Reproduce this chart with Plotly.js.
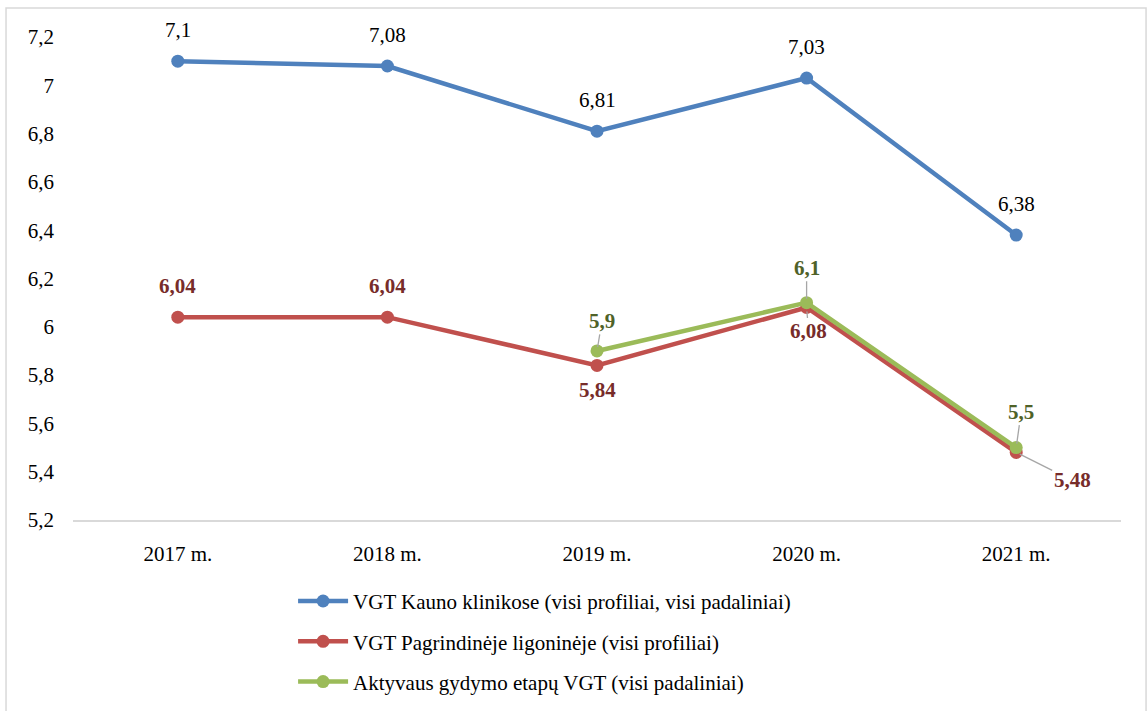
<!DOCTYPE html>
<html>
<head>
<meta charset="utf-8">
<script src="https://cdn.plot.ly/plotly-3.0.1.min.js"></script>
<style>
  html, body { margin: 0; padding: 0; background: #fff; }
  #chart { width: 1148px; height: 711px; }
</style>
</head>
<body>
<div id="chart"></div>
<script>
const years = ['2017 m.', '2018 m.', '2019 m.', '2020 m.', '2021 m.'];

const kaunoName = 'VGT Kauno klinikose (visi profiliai, visi padaliniai)';
const kaunoValues = [7.1, 7.08, 6.81, 7.03, 6.38];

const pagrName = 'VGT Pagrindinėje ligoninėje (visi profiliai)';
const pagrValues = [6.04, 6.04, 5.84, 6.08, 5.48];

const aktName = 'Aktyvaus gydymo etapų VGT (visi padaliniai)';
const aktYears = ['2019 m.', '2020 m.', '2021 m.'];
const aktValues = [5.9, 6.1, 5.5];

const fmt = v => String(v).replace('.', ',');
const serif = '"Liberation Serif", "Times New Roman", serif';

function series(name, x, y, color) {
    return {
        x: x, y: y, name: name, legendgroup: name,
        type: 'scatter', mode: 'lines+markers',
        line: { color: color, width: 4.5 },
        marker: { color: color, size: 13 },
        cliponaxis: false
    };
}

const traces = [
    series(kaunoName, years, kaunoValues, '#4F81BD'),
    series(pagrName, years, pagrValues, '#C0504D'),
    series(aktName, aktYears, aktValues, '#9BBB59')
];

// data labels, text offset in pixels from the point, leader line or not
const annotations = [];
function label(x, y, dx, dy, color, bold, leader) {
    annotations.push({
        x: x, y: y, xref: 'x', yref: 'y',
        text: bold ? '<b>' + fmt(y) + '</b>' : fmt(y),
        font: { family: serif, size: 21, color: color },
        showarrow: true, arrowhead: 0, arrowwidth: 1.3,
        arrowcolor: leader ? '#A6A6A6' : 'rgba(0,0,0,0)',
        standoff: 4,
        ax: dx, ay: dy, axref: 'pixel', ayref: 'pixel'
    });
}

kaunoValues.forEach((v, i) => label(years[i], v, 0, -31, '#000000', false, false));

const pagrOffsets = [[0, -31, false], [0, -31, false], [0, 25, false], [2, 24, true], [56, 28, true]];
pagrValues.forEach((v, i) => label(years[i], v, pagrOffsets[i][0], pagrOffsets[i][1],
    '#772C2A', true, pagrOffsets[i][2]));

const aktOffsets = [[5, -30], [0, -35], [5, -36]];
aktValues.forEach((v, i) => label(aktYears[i], v, aktOffsets[i][0], aktOffsets[i][1],
    '#4F6228', true, true));

const layout = {
    width: 1148, height: 711,
    margin: { l: 73, r: 27, t: 37, b: 191, autoexpand: false },
    paper_bgcolor: '#ffffff', plot_bgcolor: '#ffffff',
    separators: ', ',
    font: { family: serif, size: 20, color: '#000000' },
    showlegend: true,
    legend: {
        x: 0.21, xanchor: 'left', y: -0.126, yanchor: 'top',
        orientation: 'v', tracegroupgap: 10, itemwidth: 50,
        font: { family: serif, size: 21, color: '#000000' }
    },
    xaxis: {
        type: 'category', range: [-0.5, 4.5],
        showgrid: false, zeroline: false,
        showline: true, linecolor: '#D9D9D9', linewidth: 1.5,
        ticks: '', ticklabelstandoff: 14,
        tickfont: { family: serif, size: 21 }
    },
    yaxis: {
        range: [5.2, 7.2], dtick: 0.2, tick0: 5.2,
        showgrid: false, zeroline: false, showline: false,
        ticks: '', ticklabelstandoff: 18,
        tickfont: { family: serif, size: 21 }
    },
    annotations: annotations,
    shapes: [{
        type: 'rect', xref: 'paper', yref: 'paper',
        x0: -0.0639, x1: 1.0239, y0: -0.41, y1: 1.060,
        line: { color: '#D9D9D9', width: 1.5 }
    }]
};

Plotly.newPlot('chart', traces, layout, { displayModeBar: false, staticPlot: true });
</script>
</body>
</html>
